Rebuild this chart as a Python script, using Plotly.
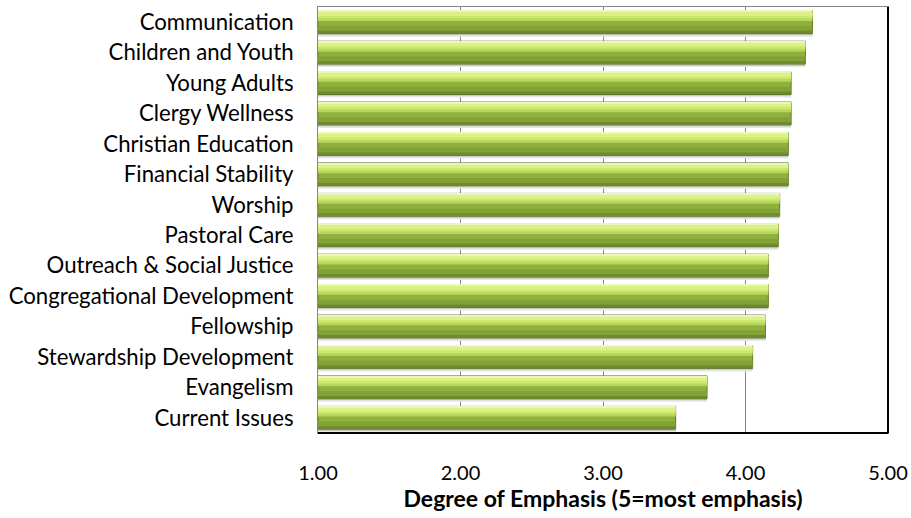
import plotly.graph_objects as go

categories = ["Communication", "Children and Youth", "Young Adults", "Clergy Wellness",
              "Christian Education", "Financial Stability", "Worship", "Pastoral Care",
              "Outreach & Social Justice", "Congregational Development", "Fellowship",
              "Stewardship Development", "Evangelism", "Current Issues"]
values = [4.47, 4.42, 4.32, 4.32, 4.30, 4.30, 4.24, 4.23, 4.16, 4.16, 4.14, 4.05, 3.73, 3.51]
x_ticks = [1, 2, 3, 4, 5]
x_tick_labels = ["1.00", "2.00", "3.00", "4.00", "5.00"]

FONT = "Lato, Carlito, Calibri, sans-serif"
base_val = 1.0
lengths = [v - base_val for v in values]

fig = go.Figure()

def layer(offset, width, color, line_color=None, line_width=0):
    fig.add_trace(go.Bar(
        y=categories, x=lengths, base=base_val, orientation="h",
        width=width, offset=offset,
        marker=dict(color=color, line=dict(color=line_color or color, width=line_width)),
        hoverinfo="skip", showlegend=False,
    ))

# soft shadow under the bar
layer(0.375, 0.10, "#e6e6e6")
layer(0.375, 0.05, "#c9c9c9")
# main bar body
layer(-0.375, 0.75, "#90b040", "#5c7824", 1)
# lower tone
layer(0.12, 0.2, "#82a236")
layer(0.28, 0.08, "#6d8a2c")
# bright highlight band
layer(-0.34, 0.30, "#b8d85c")
layer(-0.33, 0.20, "#cde86f")
layer(-0.32, 0.11, "#dcf287")
# top light edge
layer(-0.37, 0.04, "#eaf7b8")

fig.update_layout(
    barmode="overlay",
    width=911, height=518,
    margin=dict(l=318, r=23, t=7, b=85, autoexpand=False),
    paper_bgcolor="white", plot_bgcolor="white",
    font=dict(family=FONT, size=22, color="#000000"),
    xaxis=dict(
        range=[1, 5], tickvals=x_ticks, ticktext=x_tick_labels,
        showgrid=True, gridcolor="#868686", gridwidth=1,
        showline=True, linecolor="#868686", linewidth=1, mirror=True,
        zeroline=False, ticks="", ticklabelstandoff=22, automargin=False,
        tickfont=dict(family=FONT, size=20),
        title=dict(text="<b>Degree of Emphasis (5=most emphasis)</b>",
                   font=dict(family=FONT, size=23), standoff=2),
    ),
    yaxis=dict(
        autorange="reversed", showgrid=False,
        showline=True, linecolor="#868686", linewidth=1, mirror=True,
        ticks="", ticklabelstandoff=19, automargin=False,
        tickfont=dict(family=FONT, size=22.2),
    ),
)

# darker right/bottom frame edges
fig.add_shape(type="line", xref="paper", yref="paper", x0=1, x1=1, y0=0, y1=1,
              line=dict(color="#000000", width=2))
fig.add_shape(type="line", xref="paper", yref="paper", x0=0, x1=1, y0=0, y1=0,
              line=dict(color="#000000", width=2))

fig.write_html("out.html", config={"displayModeBar": False},
               post_script="document.body.style.margin='0';")
